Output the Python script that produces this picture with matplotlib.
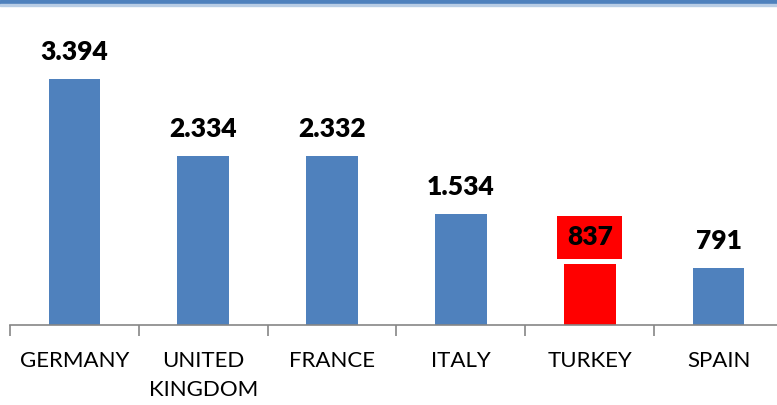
import matplotlib
matplotlib.use("Agg")
import matplotlib.pyplot as plt
from matplotlib.patches import Rectangle
import numpy as np

categories = ["GERMANY", "UNITED\nKINGDOM", "FRANCE", "ITALY", "TURKEY", "SPAIN"]
values = [3394, 2334, 2332, 1534, 837, 791]
labels = ["3.394", "2.334", "2.332", "1.534", "837", "791"]
colors = ["#4F81BD", "#4F81BD", "#4F81BD", "#4F81BD", "#FF0000", "#4F81BD"]
highlight = "TURKEY"

W, H = 777, 405
fig = plt.figure(figsize=(W / 100, H / 100), dpi=100)
plt.rcParams['font.family'] = ['Lato', 'DejaVu Sans']

# top border band
fig.patches.append(Rectangle((0, 1 - 4 / H), 1, 4 / H, transform=fig.transFigure,
                             color="#4F81BD", zorder=0))
fig.patches.append(Rectangle((0, 1 - 6 / H), 1, 2 / H, transform=fig.transFigure,
                             color="#B9CDE5", zorder=0))

left_px, right_px = 10, 783
base_px = 325
ymax = 4000
scale = 246 / 3394.0
ax_h_px = ymax * scale
ax = fig.add_axes([left_px / W, (H - base_px) / H, (right_px - left_px) / W, ax_h_px / H])

x = np.arange(len(categories))
ax.bar(x, values, width=0.4, color=colors, zorder=2)
ax.set_xlim(-0.5, len(categories) - 0.5)
ax.set_ylim(0, ymax)

for s in ["top", "right", "left"]:
    ax.spines[s].set_visible(False)
ax.spines["bottom"].set_color("#868686")
ax.spines["bottom"].set_linewidth(1.2)
ax.set_yticks([])

ax.set_xticks(x)
ax.set_xticklabels(categories, fontsize=16, color="#000000", linespacing=1.55)
ax.tick_params(axis="x", which="major", length=0, pad=19)
ax.set_xticks(np.arange(-0.5, len(categories), 1.0), minor=True)
ax.tick_params(axis="x", which="minor", length=8, width=1.2, color="#868686")
for lbl in ax.get_xticklabels():
    lbl.set_verticalalignment("top")

for xi, v, lab, cat in zip(x, values, labels, categories):
    kw = dict(ha="center", va="center", fontsize=19, fontweight="heavy", color="black")
    if cat == highlight:
        kw["bbox"] = dict(boxstyle="square,pad=0.36", fc="#FF0000", ec="none")
    ax.annotate(lab, (xi, v), xytext=(0, 27), textcoords="offset pixels", **kw)

fig.savefig("out.png", dpi=100)
